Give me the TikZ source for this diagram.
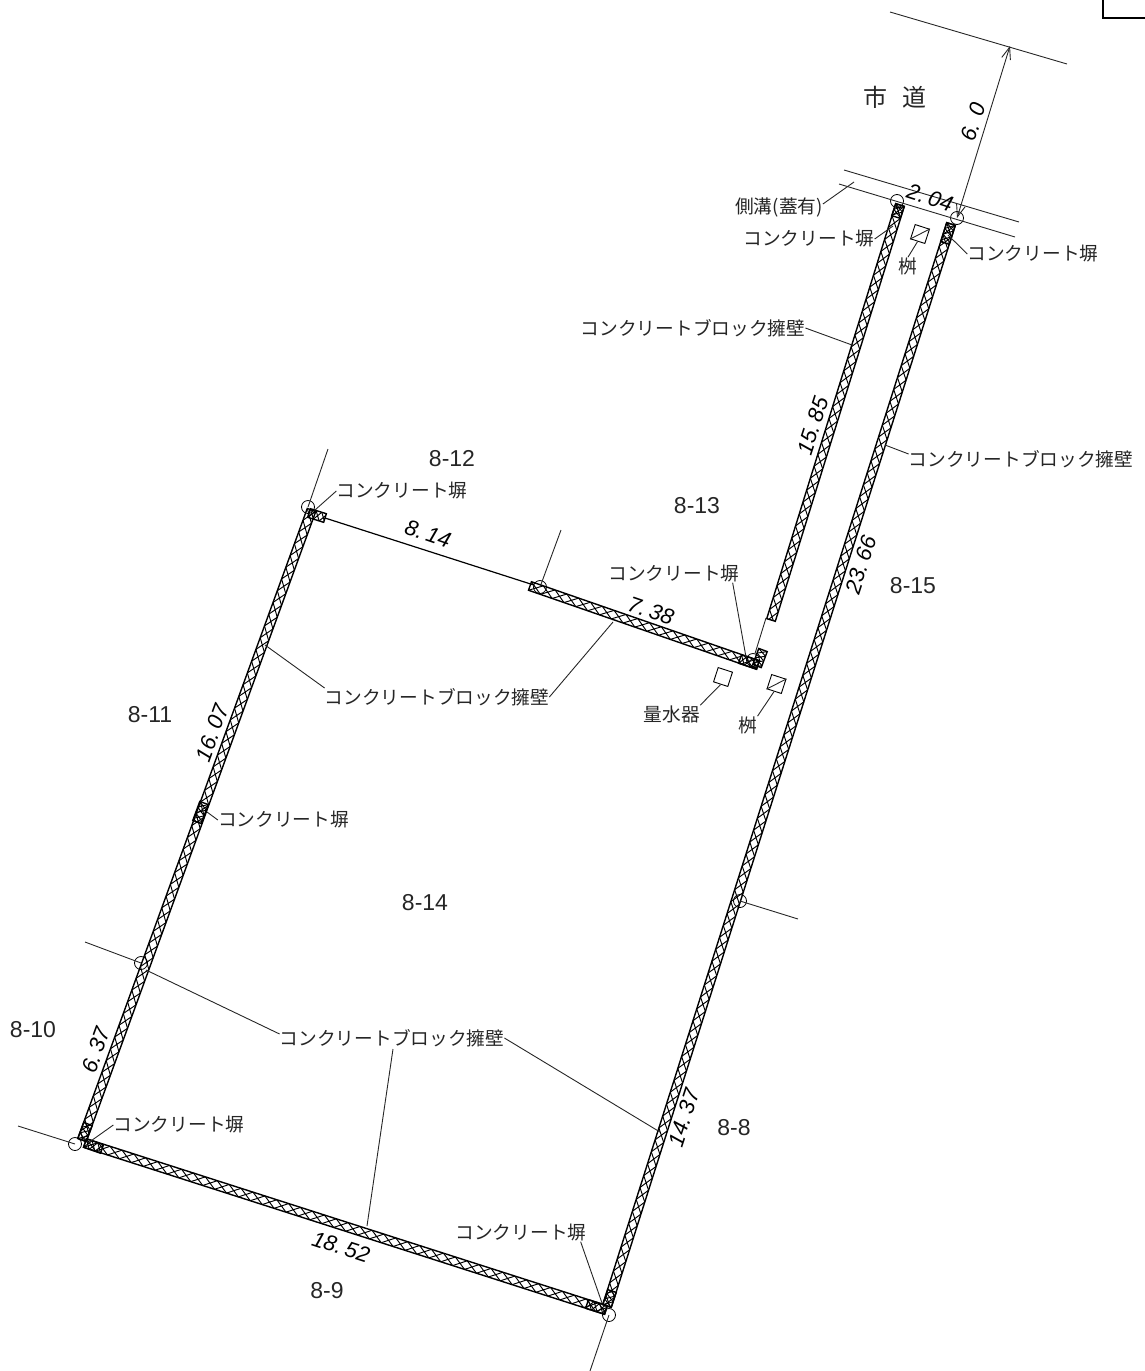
\documentclass[tikz,border=0pt]{standalone}
\usepackage{fontspec}
\usetikzlibrary{calc,arrows.meta}
\newfontfamily\cjk{Noto Sans CJK JP}
\newfontfamily\numfont{Liberation Sans}

% wall band between two named points, optional argument is the cell length
\newcommand{\hatchwall}[3][12.5]{
    \path (#2); \pgfgetlastxy{\xa}{\ya}
    \path (#3); \pgfgetlastxy{\xb}{\yb}
    \pgfmathsetmacro{\wlen}{veclen(\xb-\xa,\yb-\ya)}
    \pgfmathsetmacro{\wang}{atan2(\yb-\ya,\xb-\xa)}
    \begin{scope}[shift={(#2)}, rotate=\wang]
        \begin{scope}
            \clip (0,-4.5) rectangle (\wlen,4.5);
            \foreach \s in {0,#1,...,\wlen} {
                \draw[hatchline] (\s,-4.5) -- ++(#1,9) (\s+#1,-4.5) -- ++(-#1,9);
            }
        \end{scope}
        \draw[walledge] (0,-4.5) rectangle (\wlen,4.5);
    \end{scope}
}

\begin{document}
\begin{tikzpicture}[x=1pt, y=-1pt,
    thinline/.style = {line width=0.9pt, black!85},
    hatchline/.style = {line width=0.95pt},
    walledge/.style = {line width=1.4pt},
    stake/.style = {circle, draw, line width=0.8pt, minimum size=13pt, inner sep=0pt},
    label/.style = {font=\cjk\fontsize{18.7}{20}\selectfont, inner sep=0pt, text=black!85},
    lot/.style = {font=\numfont\fontsize{23}{25}\selectfont, inner sep=0pt, text=black!85},
    dimen/.style = {font=\numfont\itshape\fontsize{22}{24}\selectfont, inner sep=0pt}]

    \useasboundingbox (0,0) rectangle (1145,1371);

    % Corner of the frame
    \draw[line width=2pt] (1103,0) -- (1103,18) -- (1145,18);

    % Stakes
    \node[stake] (sa) at (308,507) {};
    \node[stake] (sb) at (75,1144) {};
    \node[stake] (sc) at (609,1315) {};
    \node[stake] (sd) at (740,901) {};
    \node[stake] (se) at (957,218) {};
    \node[stake] (sf) at (897,201) {};
    \node[stake] (sg) at (753,660) {};
    \node[stake] (sh) at (540,587) {};
    \node[stake] (si) at (141,963) {};

    % Wall ends
    \coordinate (wa) at (311.5,510);
    \coordinate (wb) at (82,1140);
    \coordinate (wc) at (85,1143);
    \coordinate (wd) at (606,1310);
    \coordinate (we) at (951,224);
    \coordinate (wf) at (607,1306);
    \coordinate (wg) at (900,205);
    \coordinate (wh) at (771,620);
    \coordinate (wi) at (530,586);
    \coordinate (wj) at (758,665);

    % Walls
    \hatchwall{wa}{wb}
    \hatchwall{wc}{wd}
    \hatchwall{we}{wf}
    \hatchwall{wg}{wh}
    \hatchwall{wi}{wj}

    % Denser parts of the walls
    \coordinate (pa) at (309,513);
    \coordinate (pb) at (325,518);
    \coordinate (pc) at (102,1149);
    \coordinate (pd) at (88,1124);
    \coordinate (pe) at (587,1304);
    \coordinate (pf) at (612,1291);
    \coordinate (pg) at (204,803);
    \coordinate (ph) at (197,822);
    \coordinate (pi) at (945,243);
    \coordinate (pj) at (896,217);
    \coordinate (pk) at (740,659);
    \coordinate (pl) at (763,650);
    \coordinate (pm) at (757,666);
    \hatchwall[6]{pa}{pb}
    \hatchwall[6]{pc}{wc}
    \hatchwall[6]{wb}{pd}
    \hatchwall[6]{pe}{wd}
    \hatchwall[6]{wf}{pf}
    \hatchwall[6]{pg}{ph}
    \hatchwall[6]{we}{pi}
    \hatchwall[6]{wg}{pj}
    \hatchwall[6]{pk}{wj}
    \hatchwall[5]{pl}{pm}

    % Boundary without a wall
    \draw[line width=1.2pt] (pb) -- (sh);
    \coordinate (wk) at (766,618);
    \draw[thinline] (wk) -- (sg);

    % Boundary extensions
    \coordinate (ea) at (328,449);
    \coordinate (eb) at (561,530);
    \coordinate (ec) at (798,919);
    \coordinate (ed) at (85,942);
    \coordinate (ee) at (18,1126);
    \coordinate (ef) at (590,1371);
    \draw[thinline] (sa.center) -- (ea);
    \draw[thinline] (sh.center) -- (eb);
    \draw[thinline] (sd.center) -- (ec);
    \draw[thinline] (si.center) -- (ed);
    \draw[thinline] (sb.center) -- (ee);
    \draw[thinline] (sc.center) -- (ef);

    % Road lines
    \coordinate (ra) at (890,12);
    \coordinate (rb) at (1067,64);
    \coordinate (rc) at (844,170);
    \coordinate (rd) at (1019,222);
    \coordinate (re) at (839,184);
    \coordinate (rf) at (1015,237);
    \coordinate (rg) at (1010,46);
    \draw[thinline, {Straight Barb[length=12pt,width=9pt]}-{Straight Barb[length=12pt,width=9pt]}] (rg) -- (se.center);
    \draw[thinline] (ra) -- (rb);
    \draw[thinline] (rc) -- (rd);
    \draw[thinline] (re) -- (rf);

    % Basins and water meter
    \node[draw, line width=0.9pt, minimum size=15pt, inner sep=0pt, rotate=-18] (ba) at (920,234) {};
    \node[draw, line width=0.9pt, minimum size=15pt, inner sep=0pt, rotate=-18] (bb) at (723,677) {};
    \node[draw, line width=0.9pt, minimum size=15pt, inner sep=0pt, rotate=-18] (bc) at (776.5,684) {};
    \draw[thinline] (ba.north east) -- (ba.south west);
    \draw[thinline] (bc.north east) -- (bc.south west);

    % Texts
    \node[font=\cjk\fontsize{24}{26}\selectfont, inner sep=0pt, text=black!85] (road) at (895,97) {市\hspace{15pt}道};
    \node[label] (ditch) at (779,207) {側溝(蓋有)};
    \node[label] (ca) at (809,239) {コンクリート塀};
    \node[label] (cb) at (1033,254) {コンクリート塀};
    \node[label] (cc) at (402,491) {コンクリート塀};
    \node[label] (cd) at (674,574) {コンクリート塀};
    \node[label] (ce) at (283.5,820) {コンクリート塀};
    \node[label] (cf) at (179,1125) {コンクリート塀};
    \node[label] (cg) at (521,1233) {コンクリート塀};
    \node[label] (ka) at (693,328) {コンクリートブロック擁壁};
    \node[label] (kb) at (1021,459) {コンクリートブロック擁壁};
    \node[label] (kc) at (437,697) {コンクリートブロック擁壁};
    \node[label] (kd) at (392,1038) {コンクリートブロック擁壁};
    \node[label] (ma) at (908,266) {桝};
    \node[label] (mb) at (748,725) {桝};
    \node[label] (mc) at (672,714) {量水器};

    % Lot numbers
    \node[lot] at (452,459) {8-12};
    \node[lot] at (697,506) {8-13};
    \node[lot] at (913,586) {8-15};
    \node[lot] at (150,715) {8-11};
    \node[lot] at (425,903) {8-14};
    \node[lot] at (33,1030) {8-10};
    \node[lot] at (734,1128) {8-8};
    \node[lot] at (327,1291) {8-9};

    % Lengths
    \node[dimen, rotate=72] at (973,122) {6.\hspace{8pt}0};
    \node[dimen, rotate=-18] at (930,198) {2.\hspace{4pt}04};
    \node[dimen, rotate=72] at (813,426) {15.\hspace{4pt}85};
    \node[dimen, rotate=72] at (861,565) {23.\hspace{4pt}66};
    \node[dimen, rotate=-19] at (428,534) {8.\hspace{4pt}14};
    \node[dimen, rotate=-19] at (651,611) {7.\hspace{4pt}38};
    \node[dimen, rotate=70] at (212,733) {16.\hspace{4pt}07};
    \node[dimen, rotate=70] at (96,1050) {6.\hspace{4pt}37};
    \node[dimen, rotate=72] at (684,1118) {14.\hspace{4pt}37};
    \node[dimen, rotate=-18] at (341,1247) {18.\hspace{4pt}52};

    % Leaders
    \coordinate (la) at (854,182);
    \coordinate (lb) at (893,226);
    \coordinate (lc) at (948,235);
    \coordinate (ld) at (315,510);
    \coordinate (le) at (746,657);
    \coordinate (lf) at (207,812);
    \coordinate (lg) at (88,1143);
    \coordinate (lh) at (602,1303);
    \coordinate (li) at (852,345);
    \coordinate (lj) at (885,445);
    \coordinate (lk) at (265,645);
    \coordinate (ll) at (613,622);
    \coordinate (lm) at (146,970);
    \coordinate (ln) at (367,1226);
    \coordinate (lo) at (660,1132);
    \draw[thinline] (ditch.east) ++(0,-3) -- (la);
    \draw[thinline] (ca.east) -- (lb);
    \draw[thinline] (cb.west) -- (lc);
    \draw[thinline] (cc.west) -- (ld);
    \draw[thinline] (cd.south east) ++(-7,0) -- (le);
    \draw[thinline] (ce.west) -- (lf);
    \draw[thinline] (cf.west) -- (lg);
    \draw[thinline] (cg.south east) ++(-6,0) -- (lh);
    \draw[thinline] (ka.east) -- (li);
    \draw[thinline] (kb.west) ++(0,-5) -- (lj);
    \draw[thinline] (kc.west) ++(0,-9) -- (lk);
    \draw[thinline] (kc.east) -- (ll);
    \draw[thinline] (kd.west) ++(0,-4) -- (lm);
    \draw[thinline] (kd.south) ++(1,2) -- (ln);
    \draw[thinline] (kd.east) -- (lo);
    \draw[thinline] (ba.south) -- (ma.north);
    \draw[thinline] (bb.south) -- (mc.north east);
    \draw[thinline] (bc.south) -- (mb.north east);
\end{tikzpicture}
\end{document}
